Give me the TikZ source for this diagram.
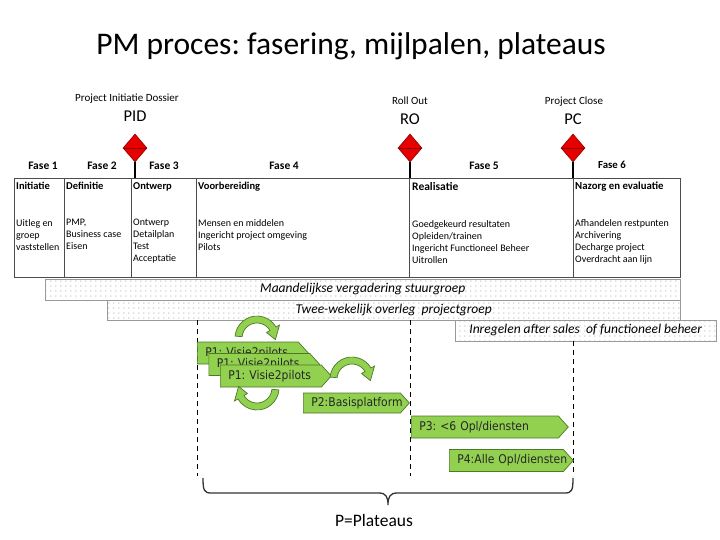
\documentclass[tikz,border=0pt]{standalone}
\usepackage{fontspec}
\setmainfont{Carlito}
\newfontfamily\platfont{DejaVu Sans}[FakeStretch=0.9]
\usetikzlibrary{shapes.geometric,shapes.symbols,patterns}
\frenchspacing
\definecolor{plgreen}{RGB}{146,208,80}
\definecolor{pldark}{RGB}{78,120,38}
\definecolor{msred}{RGB}{230,0,0}
\definecolor{msdark}{RGB}{140,0,0}
\pgfdeclarepatternformonly{sparsedots}{\pgfpointorigin}{\pgfqpoint{4.5pt}{4.5pt}}{\pgfqpoint{4.5pt}{4.5pt}}%
  {\pgfpathcircle{\pgfqpoint{1pt}{1pt}}{0.55pt}\pgfusepath{fill}}
\newcommand{\cyclearrow}[4]{%
  \filldraw[cyc, shift={#1}, yscale=-1] (#2:22) arc[start angle=#2, end angle=#3, radius=22]
    -- (#3:26) -- (#4:18.5) -- (#3:11) -- (#3:15) arc[start angle=#3, end angle=#2, radius=15] -- cycle;}

\begin{document}
\begin{tikzpicture}[x=1pt, y=-1pt, every node/.style={inner sep=0pt},
  fase/.style={font=\fontsize{11.5}{14}\selectfont\bfseries, anchor=base},
  cell/.style={draw=black!70, line width=0.8pt, anchor=north west, minimum width=#1, minimum height=99pt},
  head/.style={font=\fontsize{10.5}{12}\selectfont\bfseries, anchor=base west},
  body/.style={font=\fontsize{10}{12}\selectfont, anchor=north west, align=left},
  mstone/.style={diamond, draw=msdark, fill=msred, minimum width=24pt, minimum height=28pt, line width=0.6pt},
  stem/.style={line width=1.6pt},
  meeting/.style={draw=black!40, pattern=sparsedots, pattern color=black!55, anchor=north west, minimum width=#1, minimum height=20.5pt, font=\fontsize{13.5}{16}\selectfont\itshape},
  plat/.style={signal, signal to=east, signal pointer angle=96, draw=pldark, fill=plgreen, line width=0.7pt, minimum height=22pt, inner xsep=8pt, text width=#1, align=left, anchor=west, font=\platfont\fontsize{12}{14}\selectfont, text=black!85},
  cyc/.style={draw=pldark, fill=plgreen, line width=0.7pt},
  plane/.style={dash pattern=on 5pt off 4pt, line width=0.9pt}]
  \useasboundingbox (0,0) rectangle (720,540);
  \node[font=\fontsize{31.5}{36}\selectfont, anchor=base] (title) at (351,55) {PM proces: fasering, mijlpalen, plateaus};

  \node[font=\fontsize{11}{13}\selectfont, anchor=base] (pidlong) at (127,102) {Project Initiatie Dossier};
  \node[font=\fontsize{16.5}{20}\selectfont, anchor=base] (pidshort) at (135,122) {PID};
  \node[font=\fontsize{11}{13}\selectfont, anchor=base] (rolong) at (410,105) {Roll Out};
  \node[font=\fontsize{16.5}{20}\selectfont, anchor=base] (roshort) at (410,125) {RO};
  \node[font=\fontsize{11}{13}\selectfont, anchor=base] (pclong) at (574,105) {Project Close};
  \node[font=\fontsize{16.5}{20}\selectfont, anchor=base] (pcshort) at (573,125) {PC};

  \node[fase] (f1) at (43,170) {Fase 1};
  \node[fase] (f2) at (102,170) {Fase 2};
  \node[fase] (f3) at (164,170) {Fase 3};
  \node[fase] (f4) at (284,170) {Fase 4};
  \node[fase] (f5) at (484,170) {Fase 5};
  \node[fase, font=\fontsize{10.8}{13}\selectfont\bfseries] (f6) at (612,168.5) {Fase 6};

  \node[cell=50pt] (c1) at (14,178) {};
  \node[cell=67pt] (c2) at (64,178) {};
  \node[cell=65pt] (c3) at (131,178) {};
  \node[cell=213pt] (c4) at (196,178) {};
  \node[cell=164pt] (c5) at (409,178) {};
  \node[cell=107pt] (c6) at (573,178) {};

  \node[head] (h1) at (16,189.5) {Initiatie};
  \node[head] (h2) at (66,189.5) {Definitie};
  \node[head] (h3) at (133,189.5) {Ontwerp};
  \node[head] (h4) at (198,189.5) {Voorbereiding};
  \node[head, font=\fontsize{11.5}{14}\selectfont\bfseries] (h5) at (412,191) {Realisatie};
  \node[head, font=\fontsize{10.8}{13}\selectfont\bfseries] (h6) at (575,189.5) {Nazorg en evaluatie};

  \node[body] (b1) at (16,219) {Uitleg en\\groep\\vaststellen};
  \node[body] (b2) at (66,219) {PMP,\\Business case\\Eisen};
  \node[body] (b3) at (133,219) {Ontwerp\\Detailplan\\Test\\Acceptatie};
  \node[body] (b4) at (198,219) {Mensen en middelen\\Ingericht project omgeving\\Pilots};
  \node[body] (b5) at (412,220.5) {Goedgekeurd resultaten\\Opleiden/trainen\\Ingericht Functioneel Beheer\\Uitrollen};
  \node[body] (b6) at (575,219.5) {Afhandelen restpunten\\Archivering\\Decharge project\\Overdracht aan lijn};

  \node[mstone] (pid) at (135,148) {};
  \node[mstone] (ro) at (410,148) {};
  \node[mstone] (pc) at (573,148) {};
  \draw[msdark, line width=0.6pt] (pid.west) -- (pid.east);
  \draw[msdark, line width=0.6pt] (ro.west) -- (ro.east);
  \draw[msdark, line width=0.6pt] (pc.west) -- (pc.east);
  \draw[stem] (pid.south) -- (pid.south |- c3.north);
  \draw[stem] (ro.south) -- (ro.south |- c5.north);
  \draw[stem] (pc.south) -- (pc.south |- c6.north);

  \node[meeting=635pt] (stuur) at (45,279) {Maandelijkse vergadering stuurgroep};
  \node[meeting=573pt] (projgr) at (107,299.5) {Twee-wekelijk overleg~ projectgroep};
  \node[meeting=261pt] (after) at (455,320) {Inregelen after sales~ of functioneel beheer};

  \draw[plane] (197,320) -- (197,476);
  \draw[plane] (410,320) -- (410,476);
  \draw[plane] (573,341) -- (573,476);

  \node[plat=85pt] (p1a) at (197,353) {\mbox{P1: Visie2pilots}};
  \node[plat=85pt] (p1b) at (208.5,364.5) {\mbox{P1: Visie2pilots}};
  \node[plat=85pt] (p1c) at (220,376) {\mbox{P1: Visie2pilots}};
  \node[plat=81pt, minimum height=20pt] (p2) at (303,403) {\mbox{P2:Basisplatform}};
  \node[plat=131pt] (p3) at (411,427) {\mbox{P3: <6 Opl/diensten}};
  \node[plat=98pt] (p4) at (449,460.5) {\mbox{P4:Alle Opl/diensten}};

  \cyclearrow{(257,338)}{175}{30}{-5}
  \cyclearrow{(352,379)}{175}{30}{-5}
  \cyclearrow{(257,388)}{-5}{-150}{-185}

  \coordinate (bl) at (203,478);
  \coordinate (br) at (573,478);
  \coordinate (btip) at (388,505);
  \draw[line width=1.3pt, black!80] (bl) .. controls (203,490) and (204,493) .. (211,493) -- (379,493)
    .. controls (386,493) and (388,497) .. (btip) .. controls (388,497) and (390,493) .. (397,493)
    -- (565,493) .. controls (572,493) and (573,490) .. (br);
  \node[font=\fontsize{17.5}{21}\selectfont, anchor=base] (plateaus) at (374,526) {P=Plateaus};
\end{tikzpicture}
\end{document}
